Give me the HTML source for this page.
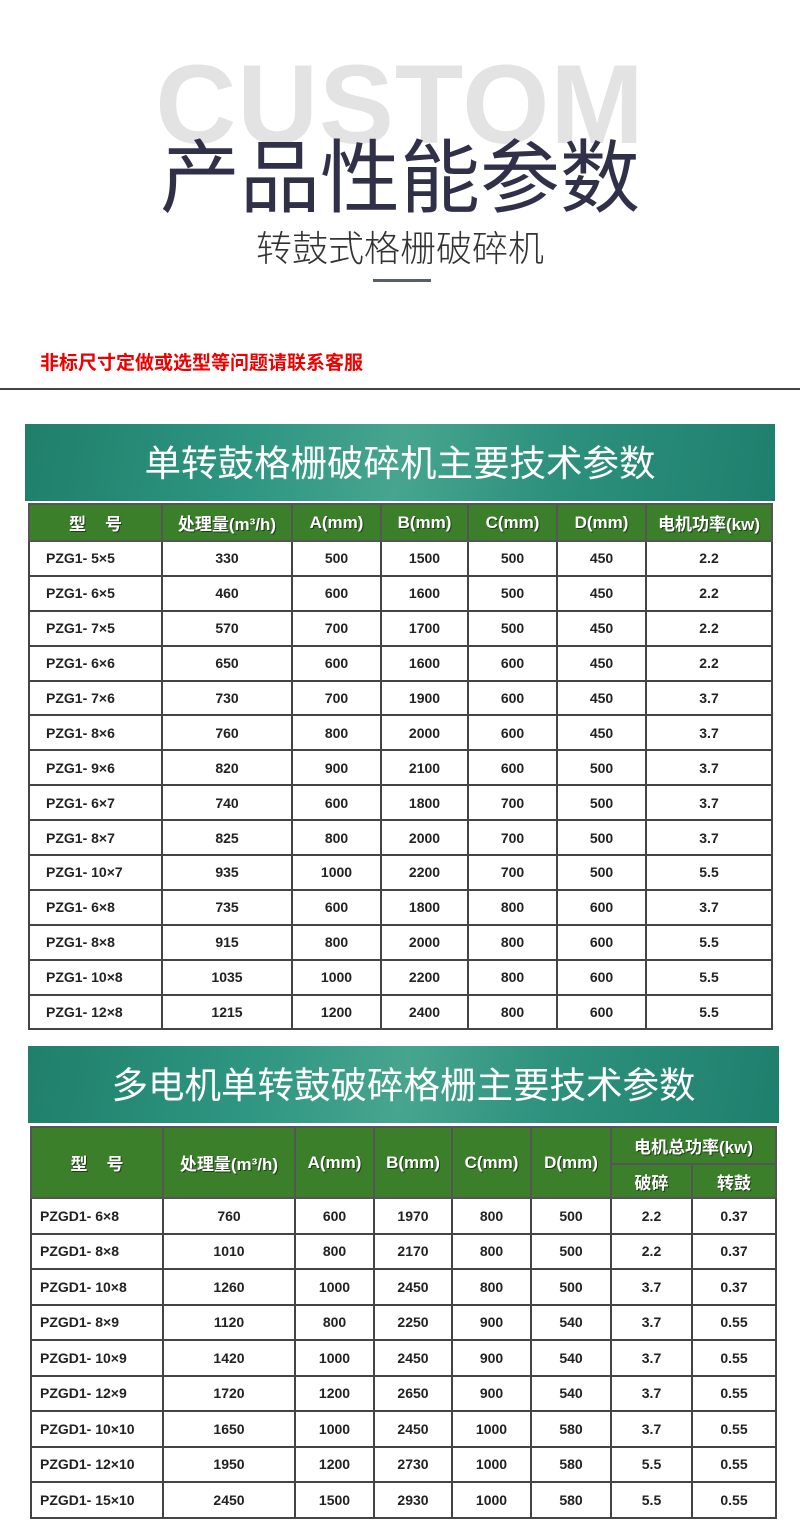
<!DOCTYPE html>
<html><head><meta charset="utf-8"><style>
*{margin:0;padding:0;box-sizing:border-box}
body{width:800px;height:1521px;background:#fff;position:relative;overflow:hidden;font-family:"Liberation Sans","Noto Sans CJK SC",sans-serif}
.abs{position:absolute}
.banner{position:absolute;background:linear-gradient(100deg,#1f7f6a 0%,#2e9682 30%,#47a58f 50%,#2d917d 70%,#1e7f6d 100%);color:#fff;text-align:center;font-size:36.5px;font-family:"Noto Sans CJK SC",sans-serif;font-weight:400}
table{position:absolute;border-collapse:collapse;table-layout:fixed;border:2px solid #444}
td{border:2px solid #444;text-align:center;font-weight:bold;font-size:14px;color:#222;background:#fff;padding:0}
td.l{text-align:left;padding-left:16px}
th{background:#3b7f2a;color:#fff;border:2px solid #555;font-weight:bold;font-size:17px;text-shadow:1px 1px 0 #1c3d14;padding:0;font-family:"Liberation Sans","Noto Sans CJK SC",sans-serif}
</style></head><body>
<div class="abs" style="left:0;top:40px;width:800px;text-align:center;font-size:112px;font-weight:bold;color:#e3e3e3;letter-spacing:1px;line-height:130px">CUSTOM</div>
<div class="abs" style="left:0;top:122px;width:800px;text-align:center;font-size:80px;color:#303148;font-family:'Noto Sans CJK SC',sans-serif;line-height:100px">产品性能参数</div>
<div class="abs" style="left:0;top:222px;width:800px;text-align:center;font-size:36px;color:#333;font-family:'Noto Sans CJK SC',sans-serif;font-weight:300;line-height:48px">转鼓式格栅破碎机</div>
<div class="abs" style="left:373px;top:279px;width:58px;height:3px;background:#5a5d70"></div>
<div class="abs" style="left:40px;top:348px;font-size:19px;font-weight:bold;color:#e00;font-family:'Noto Sans CJK SC',sans-serif;line-height:28px">非标尺寸定做或选型等问题请联系客服</div>
<div class="abs" style="left:0;top:388px;width:800px;height:2px;background:#444"></div>

<div class="banner" style="left:25px;top:424px;width:750px;height:77px;line-height:74px">单转鼓格栅破碎机主要技术参数</div>
<table style="left:28px;top:503px;width:743px">
<colgroup><col style="width:133px"><col style="width:130px"><col style="width:89px"><col style="width:87px"><col style="width:89px"><col style="width:89px"><col style="width:126px"></colgroup>
<tr style="height:37px"><th>型&nbsp;&nbsp;&nbsp;&nbsp;号</th><th>处理量(m³/h)</th><th>A(mm)</th><th>B(mm)</th><th>C(mm)</th><th>D(mm)</th><th>电机功率(kw)</th></tr>
<tr style="height:34.9px"><td class="l">PZG1- 5×5</td><td>330</td><td>500</td><td>1500</td><td>500</td><td>450</td><td>2.2</td></tr>
<tr style="height:34.9px"><td class="l">PZG1- 6×5</td><td>460</td><td>600</td><td>1600</td><td>500</td><td>450</td><td>2.2</td></tr>
<tr style="height:34.9px"><td class="l">PZG1- 7×5</td><td>570</td><td>700</td><td>1700</td><td>500</td><td>450</td><td>2.2</td></tr>
<tr style="height:34.9px"><td class="l">PZG1- 6×6</td><td>650</td><td>600</td><td>1600</td><td>600</td><td>450</td><td>2.2</td></tr>
<tr style="height:34.9px"><td class="l">PZG1- 7×6</td><td>730</td><td>700</td><td>1900</td><td>600</td><td>450</td><td>3.7</td></tr>
<tr style="height:34.9px"><td class="l">PZG1- 8×6</td><td>760</td><td>800</td><td>2000</td><td>600</td><td>450</td><td>3.7</td></tr>
<tr style="height:34.9px"><td class="l">PZG1- 9×6</td><td>820</td><td>900</td><td>2100</td><td>600</td><td>500</td><td>3.7</td></tr>
<tr style="height:34.9px"><td class="l">PZG1- 6×7</td><td>740</td><td>600</td><td>1800</td><td>700</td><td>500</td><td>3.7</td></tr>
<tr style="height:34.9px"><td class="l">PZG1- 8×7</td><td>825</td><td>800</td><td>2000</td><td>700</td><td>500</td><td>3.7</td></tr>
<tr style="height:34.9px"><td class="l">PZG1- 10×7</td><td>935</td><td>1000</td><td>2200</td><td>700</td><td>500</td><td>5.5</td></tr>
<tr style="height:34.9px"><td class="l">PZG1- 6×8</td><td>735</td><td>600</td><td>1800</td><td>800</td><td>600</td><td>3.7</td></tr>
<tr style="height:34.9px"><td class="l">PZG1- 8×8</td><td>915</td><td>800</td><td>2000</td><td>800</td><td>600</td><td>5.5</td></tr>
<tr style="height:34.9px"><td class="l">PZG1- 10×8</td><td>1035</td><td>1000</td><td>2200</td><td>800</td><td>600</td><td>5.5</td></tr>
<tr style="height:34.9px"><td class="l">PZG1- 12×8</td><td>1215</td><td>1200</td><td>2400</td><td>800</td><td>600</td><td>5.5</td></tr>
</table>

<div class="banner" style="left:28px;top:1046px;width:751px;height:77px;line-height:74px">多电机单转鼓破碎格栅主要技术参数</div>
<table style="left:30px;top:1126px;width:745px">
<colgroup><col style="width:132px"><col style="width:132px"><col style="width:79px"><col style="width:78px"><col style="width:79px"><col style="width:80px"><col style="width:81px"><col style="width:84px"></colgroup>
<tr style="height:37px"><th rowspan="2">型&nbsp;&nbsp;&nbsp;&nbsp;号</th><th rowspan="2">处理量(m³/h)</th><th rowspan="2">A(mm)</th><th rowspan="2">B(mm)</th><th rowspan="2">C(mm)</th><th rowspan="2">D(mm)</th><th colspan="2">电机总功率(kw)</th></tr>
<tr style="height:34px"><th>破碎</th><th>转鼓</th></tr>
<tr style="height:35.5px"><td class="l" style="padding-left:8px">PZGD1- 6×8</td><td>760</td><td>600</td><td>1970</td><td>800</td><td>500</td><td>2.2</td><td>0.37</td></tr>
<tr style="height:35.5px"><td class="l" style="padding-left:8px">PZGD1- 8×8</td><td>1010</td><td>800</td><td>2170</td><td>800</td><td>500</td><td>2.2</td><td>0.37</td></tr>
<tr style="height:35.5px"><td class="l" style="padding-left:8px">PZGD1- 10×8</td><td>1260</td><td>1000</td><td>2450</td><td>800</td><td>500</td><td>3.7</td><td>0.37</td></tr>
<tr style="height:35.5px"><td class="l" style="padding-left:8px">PZGD1- 8×9</td><td>1120</td><td>800</td><td>2250</td><td>900</td><td>540</td><td>3.7</td><td>0.55</td></tr>
<tr style="height:35.5px"><td class="l" style="padding-left:8px">PZGD1- 10×9</td><td>1420</td><td>1000</td><td>2450</td><td>900</td><td>540</td><td>3.7</td><td>0.55</td></tr>
<tr style="height:35.5px"><td class="l" style="padding-left:8px">PZGD1- 12×9</td><td>1720</td><td>1200</td><td>2650</td><td>900</td><td>540</td><td>3.7</td><td>0.55</td></tr>
<tr style="height:35.5px"><td class="l" style="padding-left:8px">PZGD1- 10×10</td><td>1650</td><td>1000</td><td>2450</td><td>1000</td><td>580</td><td>3.7</td><td>0.55</td></tr>
<tr style="height:35.5px"><td class="l" style="padding-left:8px">PZGD1- 12×10</td><td>1950</td><td>1200</td><td>2730</td><td>1000</td><td>580</td><td>5.5</td><td>0.55</td></tr>
<tr style="height:35.5px"><td class="l" style="padding-left:8px">PZGD1- 15×10</td><td>2450</td><td>1500</td><td>2930</td><td>1000</td><td>580</td><td>5.5</td><td>0.55</td></tr>
</table>
</body></html>
